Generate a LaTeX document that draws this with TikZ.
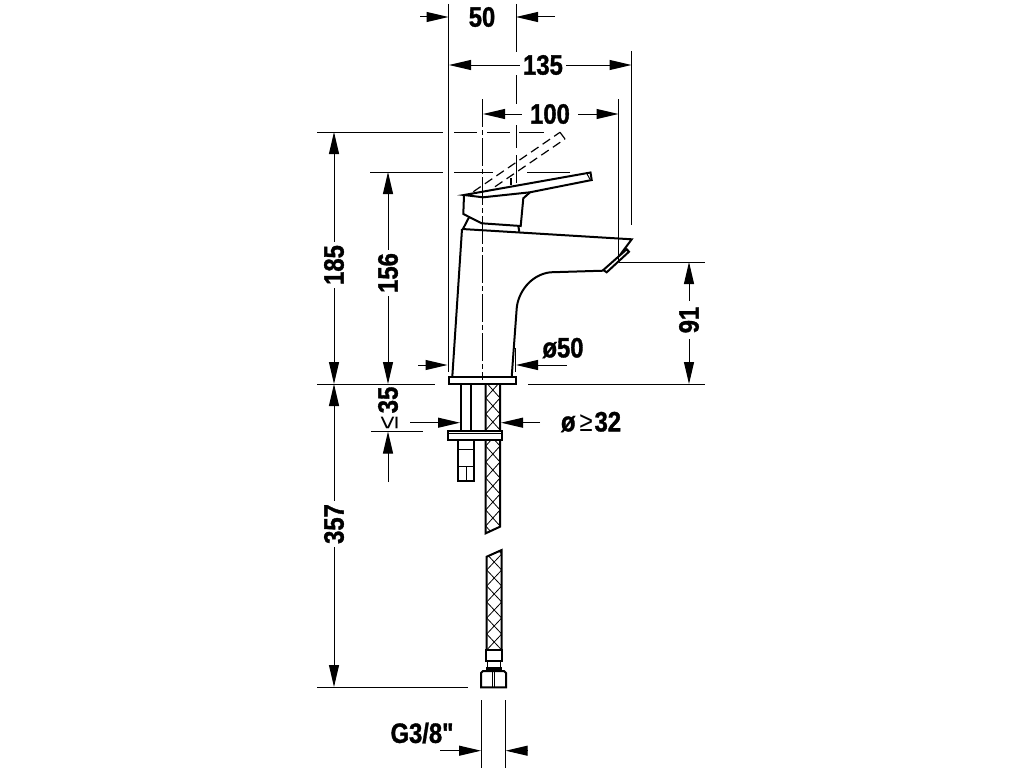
\documentclass[tikz,border=0pt]{standalone}
\usepackage{fontspec}
\newfontfamily\dimfont{Liberation Sans}[FakeStretch=0.85,BoldFeatures={FakeBold=1.2}]
\usetikzlibrary{arrows.meta}
\begin{document}
\begin{tikzpicture}[x=1pt,y=-1pt]
    \tikzset{dim/.style = {line width=1pt,-{Triangle[length=22pt,width=10pt]}}}
    \tikzset{ext/.style = {line width=1pt}}
    \tikzset{centre/.style = {line width=1pt,dash pattern=on 28pt off 3pt on 5pt off 3pt}}
    \tikzset{tap/.style = {line width=2pt,line join=miter}}
    \tikzset{ghost/.style = {line width=1.2pt,dash pattern=on 9pt off 5pt}}
    \tikzset{braid/.style = {line width=0.8pt}}
    \tikzset{label/.style = {font=\dimfont\fontsize{28}{30}\bfseries\selectfont,inner sep=3pt}}
    \useasboundingbox (0,0) rectangle (1024,768);
    % labels
    \node[label] (w50) at (482,17) {50};
    \node[label] (w135) at (543,65) {135};
    \node[label] (w100) at (550,114) {100};
    \node[label,rotate=90] (h185) at (334,265) {185};
    \node[label,rotate=90] (h156) at (388,273) {156};
    \node[label,rotate=90] (h35) at (388,408) {{\mdseries ≤}\hspace{3pt}35};
    \node[label,rotate=90] (h357) at (334,524) {357};
    \node[label,rotate=90] (h91) at (689,320) {91};
    \node[label] (dia50) at (563,348) {ø50};
    \node[label] (dia32) at (591,422) {ø\hspace{4pt}{\mdseries ≥}\hspace{2pt}32};
    \node[label] (thread) at (422,733) {G3/8"};
    % extension lines
    \draw[ext] (448.5,4) -- (448.5,372);
    \draw[ext] (516,4) -- (516,52);
    \draw[ext] (516,75) -- (516,104);
    \draw[ext] (516,125) -- (516,148) (516,155) -- (516,183);
    \draw[ext] (631.5,51) -- (631.5,225);
    \draw[ext] (618.5,99) -- (618.5,262);
    \draw[centre] (482.7,99) -- (482.7,380);
    \draw[ext] (317,132) -- (443,132) (454,132) -- (477,132) (487,132) -- (510,132) (519,132) -- (544,132);
    \draw[ext] (370,172) -- (443,172) (454,172) -- (493,172) (527,172) -- (570,172);
    \draw[ext] (317,384) -- (435,384) (528,384) -- (705,384);
    \draw[ext] (371,431) -- (423,431);
    \draw[ext] (619,262) -- (705,262);
    \draw[ext] (317,687) -- (468,687);
    \draw[ext] (515.7,348) -- (515.7,372);
    \draw[ext] (481,700) -- (481,768) (505.7,700) -- (505.7,768);
    % dimension arrows
    \coordinate (w50a) at (420,17);
    \coordinate (w50b) at (448.5,17);
    \coordinate (w50c) at (555,17);
    \coordinate (w50d) at (516,17);
    \draw[dim] (w50a) -- (w50b);
    \draw[dim] (w50c) -- (w50d);
    \coordinate (w135a) at (449,65);
    \coordinate (w135b) at (631.5,65);
    \draw[dim] (w135) -- (w135a);
    \draw[dim] (w135) -- (w135b);
    \coordinate (w100a) at (483,114);
    \coordinate (w100b) at (618.5,114);
    \draw[dim,shorten <=5pt] (w100) -- (w100a);
    \draw[dim,shorten <=5pt] (w100) -- (w100b);
    \coordinate (h185a) at (334,132);
    \coordinate (h185b) at (334,384);
    \draw[dim] (h185) -- (h185a);
    \draw[dim] (h185) -- (h185b);
    \coordinate (h156a) at (388,172);
    \coordinate (h156b) at (388,384);
    \draw[dim] (h156) -- (h156a);
    \draw[dim] (h156) -- (h156b);
    \coordinate (h35a) at (388,482);
    \coordinate (h35b) at (388,431.5);
    \draw[dim] (h35a) -- (h35b);
    \coordinate (h357a) at (334,384);
    \coordinate (h357b) at (334,687);
    \draw[dim] (h357) -- (h357a);
    \draw[dim] (h357) -- (h357b);
    \coordinate (h91a) at (689,262);
    \coordinate (h91b) at (689,384);
    \draw[dim,shorten <=3pt] (h91) -- (h91a);
    \draw[dim,shorten <=3pt] (h91) -- (h91b);
    \coordinate (dia50a) at (418,365);
    \coordinate (dia50b) at (447.5,365);
    \coordinate (dia50c) at (566.7,365);
    \coordinate (dia50d) at (516,365);
    \draw[dim] (dia50a) -- (dia50b);
    \draw[dim] (dia50c) -- (dia50d);
    \coordinate (dia32a) at (410,422.7);
    \coordinate (dia32b) at (460,422.7);
    \coordinate (dia32c) at (540,422.7);
    \coordinate (dia32d) at (501,422.7);
    \draw[dim] (dia32a) -- (dia32b);
    \draw[dim] (dia32c) -- (dia32d);
    \coordinate (threada) at (440,750.7);
    \coordinate (threadb) at (481,750.7);
    \coordinate (threadc) at (527,750.7);
    \coordinate (threadd) at (505.7,750.7);
    \draw[dim] (threada) -- (threadb);
    \draw[dim] (threadc) -- (threadd);
    % raised lever
    \draw[ghost] (473.3,191.7) -- (560,132.3);
    \draw[ghost] (495,186.7) -- (565,139);
    \draw[line width=1.2pt] (560,132.3) -- (565,139);
    \draw[ghost] (511,178) -- (511,185);
    % spout body
    \draw[tap] (462,229) -- (452.3,376.7);
    \draw[tap] (462,229) -- (631.7,239.3) -- (620,255);
    \draw[tap] (603.3,270.7) -- (550,272.3) .. controls (530,275) and (518,293) .. (516.7,308.3) -- (511.7,376.7);
    \draw[tap] (626.7,249.3) -- (629,251.7) -- (606.7,272.3) -- (603.3,270) -- cycle;
    % handle
    \draw[tap] (464,195) -- (590.5,172.5) -- (591.7,180) -- (530,192.3) -- (483,197.3) -- cycle;
    \draw[tap] (464,195) -- (463.3,214) -- (481.7,223.3) -- (520.7,226) -- (523.3,198.3) -- (530,192.3);
    \draw[line width=1pt] (586.7,173.3) -- (590,179.3);
    \draw[tap] (469.3,216.7) -- (463.3,228.3);
    \draw[tap] (518.3,226) -- (519.3,231.7);
    % base plate and stud
    \draw[tap] (448.7,376.7) rectangle (516,384);
    \draw[tap] (460.7,384) -- (460.7,431);
    \draw[tap] (471,384) -- (471,431);
    % upper hose
    \begin{scope}
        \clip (485.7,384) -- (500,384) -- (500,526.7) -- (485.7,533.3) -- cycle;
        \foreach \y in {366,382,...,542} {
            \draw[braid] (485.7,\y) -- (500,\y+16);
            \draw[braid] (500,\y) -- (485.7,\y+16);
        }
    \end{scope}
    \draw[tap] (500,384) -- (500,526.7) -- (485.7,533.3) -- (485.7,384);
    % washer and nut
    \draw[tap,fill=white] (448,431) rectangle (501.7,440);
    \draw[line width=1pt] (448,433) -- (501.7,433);
    \draw[tap] (458.3,440) rectangle (474.3,480.7);
    \draw[line width=1pt] (458.3,449) -- (474.3,449);
    \draw[line width=1pt] (458.3,466.7) -- (474.3,466.7);
    \draw[line width=1pt] (466.3,466.7) -- (466.3,480.7);
    % lower hose
    \begin{scope}
        \clip (486.7,556.7) -- (501.7,550) -- (501.7,650) -- (486.7,650) -- cycle;
        \foreach \y in {538,554,...,650} {
            \draw[braid] (486.7,\y) -- (501.7,\y+16);
            \draw[braid] (501.7,\y) -- (486.7,\y+16);
        }
    \end{scope}
    \draw[tap] (486.7,650) -- (486.7,556.7) -- (501.7,550) -- (501.7,650);
    % fitting
    \draw[tap] (486,650) rectangle (501.7,660.7);
    \draw[line width=1pt] (487.7,660.7) -- (487.7,667) (500.7,660.7) -- (500.7,667);
    \draw[line width=3pt] (486,668) -- (501.7,668);
    \draw[tap] (483,671) -- (504,671) -- (506,673) -- (506,687.3) -- (481,687.3) -- (481,673) -- cycle;
    \draw[line width=1pt] (492.7,671) -- (492.7,687.3) (494.3,671) -- (494.3,687.3);
\end{tikzpicture}
\end{document}
